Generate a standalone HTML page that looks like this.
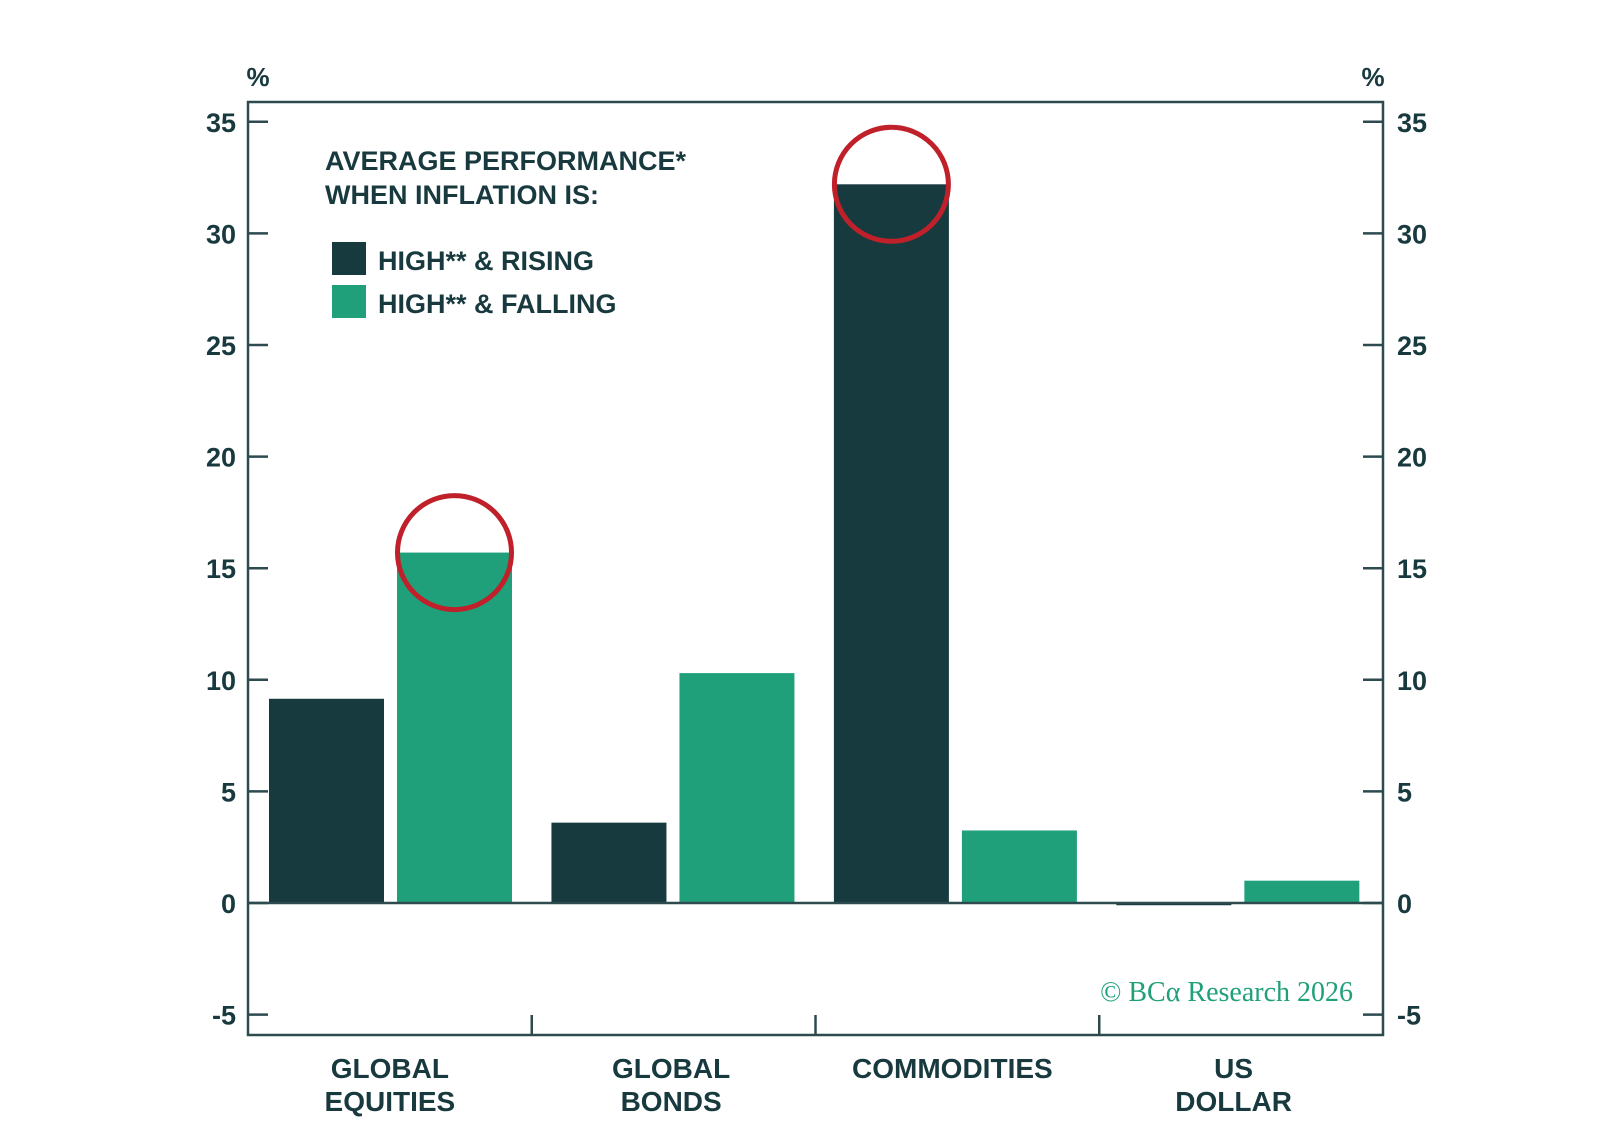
<!DOCTYPE html>
<html><head><meta charset="utf-8"><style>
body{margin:0;background:#fff}
svg{display:block}
text{font-family:"Liberation Sans",sans-serif;fill:#183a3f}
</style></head><body>
<svg id="chart" width="1598" height="1144">
<g id="g"></g>
<text x="258" y="86" text-anchor="middle" font-size="26" font-weight="bold">%</text>
<text x="1373" y="86" text-anchor="middle" font-size="26" font-weight="bold">%</text>
<text x="325" y="170" font-size="27" font-weight="bold">AVERAGE PERFORMANCE*<tspan x="325" y="204">WHEN INFLATION IS:</tspan></text>
<rect x="332" y="242" width="34" height="33" fill="#173a3e"/>
<text x="378" y="270" font-size="27" font-weight="bold">HIGH** &amp; RISING</text>
<rect x="332" y="285" width="34" height="33" fill="#1fa07a"/>
<text x="378" y="313" font-size="27" font-weight="bold">HIGH** &amp; FALLING</text>
<text x="1353" y="1001" text-anchor="end" font-size="28" style="font-family:'Liberation Serif',serif;fill:#1fa07a">© BCα Research 2026</text>
</svg>
<script>
const categories=[["GLOBAL","EQUITIES"],["GLOBAL","BONDS"],["COMMODITIES"],["US","DOLLAR"]];
const rising=[9.15,3.6,32.2,-0.1];
const falling=[15.7,10.3,3.25,1.0];
const ticks=[-5,0,5,10,15,20,25,30,35];
const highlighted=[["falling",0],["rising",2]];
const L=248,R=1383,T=102,B=1035,Y0=903,PER=111.6/5;
const y=v=>Y0-v*PER;
const gw=(R-L)/categories.length;
const ns="http://www.w3.org/2000/svg";
const g=document.getElementById('g');
function mk(t,a,txt){const e=document.createElementNS(ns,t);for(const k in a)e.setAttribute(k,a[k]);if(txt!==undefined)e.textContent=txt;g.appendChild(e);return e;}
const DARK="#173a3e",GREEN="#1fa07a",AX="#2d4a4f";
const bw=115,off=21,gap=13;
function barX(i,s){return L+i*(gw-1.3)+off+(s?bw+gap:0);}
categories.forEach((c,i)=>{
  [[rising,DARK,'rising'],[falling,GREEN,'falling']].forEach(([arr,col,nm],s)=>{
    const v=arr[i];const top=Math.min(y(v),Y0),h=Math.max(Math.abs(y(v)-Y0),2);
    const r=mk('rect',{x:barX(i,s),y:top,width:bw,height:h,fill:col});
    
    
  });
  const t=mk('text',{'text-anchor':'middle','font-size':28,'font-weight':'bold'});
  
  
  c.forEach((ln,k)=>{const ts=document.createElementNS(ns,'tspan');ts.setAttribute('x',L+i*(gw-2.5)+gw/2);ts.setAttribute('y',1078+k*33);ts.textContent=ln;t.appendChild(ts);});
});
const z=mk('line',{x1:L,x2:R,y1:Y0,y2:Y0,stroke:AX,'stroke-width':2.5});

const fr=mk('rect',{x:L,y:T,width:R-L,height:B-T,fill:'none',stroke:AX,'stroke-width':2.5});

ticks.forEach(v=>{
  mk('line',{x1:L,x2:L+20,y1:y(v),y2:y(v),stroke:AX,'stroke-width':2.5});
  mk('line',{x1:R-20,x2:R,y1:y(v),y2:y(v),stroke:AX,'stroke-width':2.5});
  const a=mk('text',{x:236,y:y(v)+10,'text-anchor':'end','font-size':27,'font-weight':'bold'},v);
  
  const b=mk('text',{x:R+14,y:y(v)+10,'text-anchor':'start','font-size':27,'font-weight':'bold'},v);
  
});
for(let i=1;i<categories.length;i++)mk('line',{x1:L+i*gw,x2:L+i*gw,y1:B-20,y2:B,stroke:AX,'stroke-width':2.5});
highlighted.forEach(([s,i])=>{
  const arr=s=='rising'?rising:falling;
  const c=mk('circle',{cx:barX(i,s=='falling'?1:0)+bw/2,cy:y(arr[i]),r:57,fill:'none',stroke:'#c0202a','stroke-width':5});
  
});
</script>
</body></html>
